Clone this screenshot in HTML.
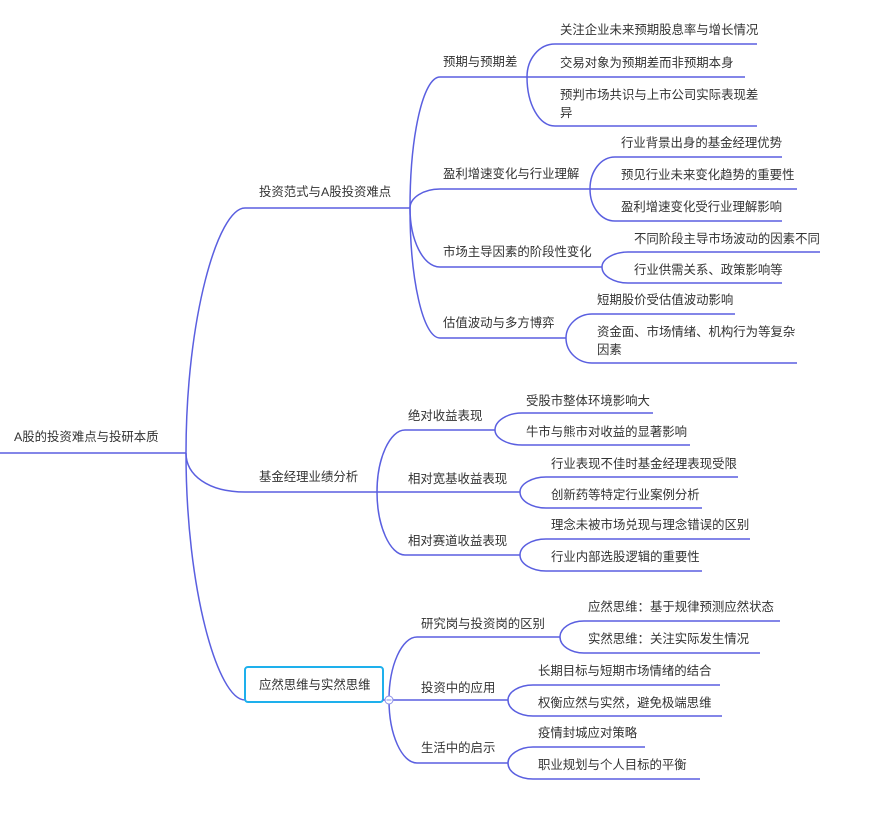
<!DOCTYPE html>
<html><head><meta charset="utf-8">
<style>
html,body{margin:0;padding:0;background:#fff;}
svg{display:block;}
text{font-family:"Liberation Sans","Noto Sans CJK SC",sans-serif;font-size:12.4px;fill:#333;}
path{fill:none;stroke:#5a5fe0;stroke-width:1.5;}
</style></head>
<body>
<svg width="873" height="827" viewBox="0 0 873 827" xmlns="http://www.w3.org/2000/svg">
<!-- root -->
<text x="14" y="441">A股的投资难点与投研本质</text>
<path d="M0 453 L186 453"/>
<!-- level1 -->
<path d="M186 453 C186 318,218 208,245 208 L410 208"/>
<text x="259" y="196">投资范式与A股投资难点</text>
<path d="M186 453 C186 475,208 492,245 492 L377 492"/>
<text x="259" y="481">基金经理业绩分析</text>
<path d="M186 453 C186 590,218 700,245 700"/>
<rect x="245" y="667" width="138" height="35" rx="3" fill="#fff" stroke="#1eb0ec" stroke-width="2"/>
<text x="259" y="689">应然思维与实然思维</text>
<path d="M383 700 L389 700"/>
<!-- branch1 level2 -->
<path d="M410 208 C410 136,423 77,440 77 L527 77"/>
<text x="443" y="66">预期与预期差</text>
<path d="M410 208 C410 198,423 189,440 189 L590 189"/>
<text x="443" y="178">盈利增速变化与行业理解</text>
<path d="M410 208 C410 240,423 267,440 267 L602 267"/>
<text x="443" y="256">市场主导因素的阶段性变化</text>
<path d="M410 208 C410 280,423 338,440 338 L566 338"/>
<text x="443" y="327">估值波动与多方博弈</text>
<!-- 预期 children -->
<path d="M527 77 C527 59,539 44,555 44 L757 44"/>
<text x="560" y="34">关注企业未来预期股息率与增长情况</text>
<path d="M527 77 L745 77"/>
<text x="560" y="67">交易对象为预期差而非预期本身</text>
<path d="M527 77 C527 104,539 126,555 126 L757 126"/>
<text x="560" y="99">预判市场共识与上市公司实际表现差</text>
<text x="560" y="117">异</text>
<!-- 盈利 children -->
<path d="M590 189 C590 171,601 157,615 157 L782 157"/>
<text x="621" y="147">行业背景出身的基金经理优势</text>
<path d="M590 189 L797 189"/>
<text x="621" y="179">预见行业未来变化趋势的重要性</text>
<path d="M590 189 C590 207,601 221,615 221 L782 221"/>
<text x="621" y="211">盈利增速变化受行业理解影响</text>
<!-- 市场 children -->
<path d="M602 267 C602 259,614 252,628 252 L820 252"/>
<text x="634" y="243">不同阶段主导市场波动的因素不同</text>
<path d="M602 267 C602 276,614 283,628 283 L782 283"/>
<text x="634" y="274">行业供需关系、政策影响等</text>
<!-- 估值 children -->
<path d="M566 338 C566 325,578 314,592 314 L735 314"/>
<text x="597" y="304">短期股价受估值波动影响</text>
<path d="M566 338 C566 352,578 363,592 363 L797 363"/>
<text x="597" y="336">资金面、市场情绪、机构行为等复杂</text>
<text x="597" y="354">因素</text>
<!-- branch2 level2 -->
<path d="M377 492 C377 458,390 430,405 430 L495 430"/>
<text x="408" y="420">绝对收益表现</text>
<path d="M377 492 L520 492"/>
<text x="408" y="483">相对宽基收益表现</text>
<path d="M377 492 C377 526,390 555,405 555 L520 555"/>
<text x="408" y="545">相对赛道收益表现</text>
<path d="M495 430 C495 421,507 413,522 413 L653 413"/>
<text x="526" y="405">受股市整体环境影响大</text>
<path d="M495 430 C495 438,507 445,522 445 L690 445"/>
<text x="526" y="436">牛市与熊市对收益的显著影响</text>
<path d="M520 492 C520 484,532 477,546 477 L738 477"/>
<text x="551" y="468">行业表现不佳时基金经理表现受限</text>
<path d="M520 492 C520 501,532 508,546 508 L702 508"/>
<text x="551" y="499">创新药等特定行业案例分析</text>
<path d="M520 555 C520 546,532 539,546 539 L750 539"/>
<text x="551" y="529">理念未被市场兑现与理念错误的区别</text>
<path d="M520 555 C520 564,532 571,546 571 L702 571"/>
<text x="551" y="561">行业内部选股逻辑的重要性</text>
<!-- branch3 level2 -->
<path d="M389 700 C389 665,402 637,417 637 L560 637"/>
<text x="421" y="628">研究岗与投资岗的区别</text>
<path d="M389 700 L508 700"/>
<text x="421" y="692">投资中的应用</text>
<path d="M389 700 C389 735,402 763,417 763 L508 763"/>
<text x="421" y="752">生活中的启示</text>
<path d="M560 637 C560 628,571 621,584 621 L780 621"/>
<text x="588" y="611">应然思维：基于规律预测应然状态</text>
<path d="M560 637 C560 646,571 653,584 653 L760 653"/>
<text x="588" y="643">实然思维：关注实际发生情况</text>
<path d="M508 700 C508 692,519 685,533 685 L720 685"/>
<text x="538" y="675">长期目标与短期市场情绪的结合</text>
<path d="M508 700 C508 709,519 716,533 716 L722 716"/>
<text x="538" y="707">权衡应然与实然，避免极端思维</text>
<path d="M508 763 C508 755,519 747,533 747 L645 747"/>
<text x="538" y="737">疫情封城应对策略</text>
<path d="M508 763 C508 772,519 779,533 779 L700 779"/>
<text x="538" y="769">职业规划与个人目标的平衡</text>
<circle cx="389" cy="700" r="4" fill="#fff" stroke="#8a8fe8" stroke-width="1"/>
<path d="M386.5 700 L391.5 700" style="stroke:#8a8fe8;stroke-width:1"/>
</svg>
</body></html>
